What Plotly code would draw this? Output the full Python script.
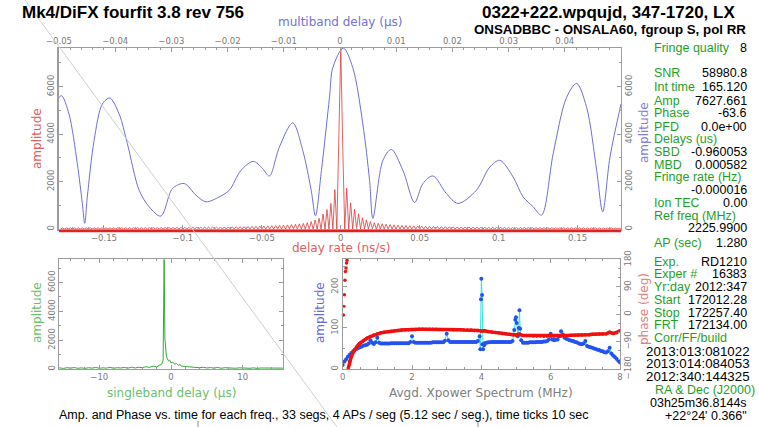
import plotly.graph_objects as go

# ======================= DATA =======================
# Main panel: multiband delay function (blue, top axis, microseconds)
mbd_us = [-0.05, -0.04952, -0.04822, -0.04674, -0.04585, -0.04542, -0.04496, -0.04376, -0.04228, -0.04096,
          -0.03930, -0.03783, -0.03574, -0.03396, -0.03187, -0.02980, -0.02772, -0.02563, -0.02385, -0.02148,
          -0.01970, -0.01761, -0.01542, -0.01376, -0.01257, -0.01079, -0.00841, -0.00663, -0.00513, -0.00437,
          -0.00330, -0.00187, -0.00128, 0.00058, 0.00228, 0.00406, 0.00526, 0.00585, 0.00763, 0.00913,
          0.01119, 0.01328, 0.01476, 0.01654, 0.01893, 0.02100, 0.02428, 0.02665, 0.02843, 0.03080,
          0.03258, 0.03437, 0.03586, 0.03793, 0.04032, 0.04210, 0.04388, 0.04567, 0.04674, 0.04804, 0.05]
mbd_amp = [5548, 5618, 4850, 2755, 1078, 239, 1355, 3732, 5270, 5522,
           4850, 3593, 1635, 935, 545, 1707, 1916, 1426, 1145, 1355,
           1635, 2474, 2851, 2545, 2235, 3451, 4474, 3312, 1635, 558,
           2474, 5548, 6800, 7627, 6800, 4430, 2050, 450, 2890, 3354,
           2474, 1120, 1916, 2235, 1495, 1078, 1635, 2612, 2893, 2193,
           1355, 935, 587, 3174, 5548, 6134, 5128, 2474, 725, 3032, 5270]

# Main panel: delay-rate function (red, bottom axis, ns/s), sampled every half lobe
rate_step_ns_s = 0.00125
rate_core_amp = [3500, 7627, 3400]
rate_lobes_right = [1720, 1100, 830, 640, 470, 385, 315, 270, 240, 220, 200, 186, 174, 163, 154, 146, 139, 132, 126, 121,
                    116, 111, 107, 103, 100, 96, 93, 90, 88, 85, 83, 81, 79, 77, 75, 73, 72, 70, 69, 67,
                    66, 65, 64, 62, 61, 60, 59, 58, 57, 56, 56, 55, 54, 53, 52, 52, 51, 50, 50, 49,
                    48, 48, 47, 47, 46, 46, 45, 45, 44, 44]
rate_lobes_left = [1660, 1080, 820, 630, 450, 380, 310, 265, 237, 215, 198, 184, 172, 162, 153, 145, 138, 131, 125, 120,
                   115, 110, 106, 102, 99, 96, 93, 90, 87, 85, 82, 80, 78, 76, 75, 73, 71, 70, 68, 67,
                   66, 64, 63, 62, 61, 60, 59, 58, 57, 56, 55, 55, 54, 53, 52, 52, 51, 50, 50, 49,
                   48, 48, 47, 47, 46, 46, 45, 45, 44, 44]

# Lower-left: singleband delay function
sbd_us = [-15.6, -15.0, -14.5, -14.0, -13.5, -13.0, -12.5, -12.0, -11.5, -11.0, -10.5, -10.0, -9.5, -9.0,
          -8.5, -8.0, -7.5, -7.0, -6.5, -6.0, -5.5, -5.0, -4.5, -4.0, -3.5, -3.0, -2.5, -2.0,
          -1.6, -1.3, -1.1, -0.96, -0.85, -0.75, -0.65, -0.5, -0.35, -0.2, 0.0, 0.25, 0.5, 0.75, 1.0, 1.25, 1.5,
          2.0, 2.5, 3.0, 3.5, 4.0, 4.5, 5.0, 5.5, 6.0, 6.5, 7.0, 7.5, 8.0, 8.5,
          9.0, 9.5, 10.0, 10.5, 11.0, 11.5, 12.0, 12.5, 13.0, 13.5, 14.0, 14.5, 15.0, 15.6]
sbd_amp = [80, 40, 90, 60, 100, 50, 80, 40, 90, 60, 110, 50, 80, 60,
           120, 50, 90, 70, 110, 60, 130, 70, 120, 90, 160, 110, 200, 150,
           260, 330, 600, 7600, 2100, 1300, 900, 700, 560, 620, 420, 480, 330, 380, 260, 300, 200,
           170, 150, 120, 140, 90, 120, 70, 100, 60, 110, 50, 90, 70, 100,
           50, 80, 60, 90, 50, 80, 40, 70, 60, 80, 40, 70, 50, 60]

# Lower-right: averaged cross-power spectrum amplitude
xp_freq_mhz = [0.0, 0.05, 0.1, 0.15, 0.2, 0.25, 0.3, 0.35, 0.4, 0.45,
               0.5, 0.55, 0.6, 0.65, 0.7, 0.75, 0.8, 0.85, 0.9, 0.95,
               1.0, 1.05, 1.1, 1.15, 1.2, 1.25, 1.3, 1.35, 1.4, 1.45,
               1.5, 1.55, 1.6, 1.65, 1.7, 1.75, 1.8, 1.85, 1.9, 1.95,
               2.0, 2.05, 2.1, 2.15, 2.2, 2.25, 2.3, 2.35, 2.4, 2.45,
               2.5, 2.55, 2.6, 2.65, 2.7, 2.75, 2.8, 2.85, 2.9, 2.95,
               3.0, 3.05, 3.1, 3.15, 3.2, 3.25, 3.3, 3.35, 3.4, 3.45,
               3.5, 3.55, 3.6, 3.65, 3.7, 3.75, 3.8, 3.85, 3.9, 3.95, 3.97, 3.99,
               4.0, 4.02, 4.03, 4.05, 4.08, 4.1, 4.15, 4.2, 4.25, 4.3, 4.35, 4.4, 4.45,
               4.5, 4.55, 4.6, 4.65, 4.7, 4.75, 4.8, 4.85, 4.9, 4.95, 4.98,
               5.0, 5.02, 5.05, 5.08, 5.1, 5.12, 5.15, 5.2, 5.25, 5.3, 5.35, 5.4, 5.45,
               5.5, 5.55, 5.6, 5.65, 5.7, 5.75, 5.8, 5.85, 5.9, 5.95,
               6.0, 6.05, 6.1, 6.15, 6.2, 6.25, 6.3, 6.35, 6.4, 6.45,
               6.5, 6.55, 6.6, 6.65, 6.7, 6.75, 6.8, 6.85, 6.9, 6.95,
               7.0, 7.05, 7.1, 7.15, 7.2, 7.25, 7.3, 7.35, 7.4, 7.45,
               7.5, 7.55, 7.6, 7.65, 7.7, 7.75, 7.8, 7.85, 7.9, 7.95,
               8.0]
xp_amp = [10, 18, 24, 30, 35, 39, 43, 46, 49, 51,
          53, 55, 57, 58, 59, 62, 70, 64, 61, 65,
          76, 64, 62, 62, 62, 62, 62, 62, 63, 63,
          63, 63, 63, 63, 63, 63, 63, 63, 63, 66,
          80, 66, 64, 64, 64, 64, 64, 64, 64, 64,
          64, 64, 65, 65, 65, 65, 65, 65, 65, 69,
          86, 70, 66, 66, 66, 66, 66, 66, 66, 66,
          66, 66, 66, 66, 66, 66, 66, 66, 68, 80, 48, 170,
          220, 180, 60, 48, 58, 63, 64, 65, 65, 66, 66, 66, 66,
          66, 66, 66, 66, 66, 66, 66, 66, 68, 95, 120,
          126, 112, 80, 100, 143, 98, 70, 64, 64, 64, 64, 65, 65,
          65, 65, 66, 66, 66, 66, 67, 67, 68, 72,
          86, 72, 70, 71, 72, 80, 92, 84, 76, 74,
          72, 70, 69, 68, 66, 65, 63, 61, 60, 62,
          68, 56, 54, 53, 52, 50, 49, 47, 46, 44,
          43, 41, 40, 43, 52, 38, 33, 29, 25, 20,
          16]

# Lower-right: phase (wrapped leading points + main curve)
phase_lead_freq_mhz = [0.02, 0.035, 0.05, 0.065, 0.08, 0.095, 0.11, 0.125]
phase_lead_deg = [-2, 26, 64, 112, 141, 152, 169, 178]
phase_freq_mhz = [0.16, 0.2, 0.25, 0.3, 0.35, 0.4, 0.45,
                  0.5, 0.6, 0.7, 0.8, 0.9, 1.0, 1.1, 1.2, 1.3, 1.4, 1.5, 1.6, 1.7, 1.8, 1.9,
                  2.0, 2.1, 2.2, 2.3, 2.4, 2.5, 2.6, 2.7, 2.8, 2.9,
                  3.0, 3.1, 3.2, 3.3, 3.4, 3.5, 3.6, 3.7, 3.8, 3.9,
                  4.0, 4.1, 4.2, 4.3, 4.4, 4.5, 4.6, 4.7, 4.8, 4.9,
                  5.0, 5.1, 5.2, 5.3, 5.4, 5.5, 5.6, 5.7, 5.8, 5.9,
                  6.0, 6.1, 6.2, 6.3, 6.4, 6.5, 6.6, 6.7, 6.8, 6.9,
                  7.0, 7.1, 7.2, 7.3, 7.4, 7.5, 7.6, 7.7, 7.8, 7.9, 8.0]
phase_deg = [-178, -155, -138, -125, -116, -108, -101,
             -95, -86, -79, -73, -68, -64, -61, -59, -57, -56, -54, -53, -52, -51, -51,
             -50, -50, -49, -49, -49, -49, -49, -49, -50, -50,
             -50, -50, -51, -51, -51, -52, -52, -52, -53, -53,
             -55, -54, -57, -58, -60, -61, -63, -64, -66, -67,
             -68, -65, -70, -70, -70, -71, -71, -71, -72, -72,
             -72, -72, -71, -71, -70, -70, -69, -69, -68, -68,
             -67, -67, -66, -66, -65, -65, -64, -59, -63, -60, -54]

# Tick values
mbd_ticks = [-0.05, -0.04, -0.03, -0.02, -0.01, 0, 0.01, 0.02, 0.03, 0.04]
rate_ticks = [-0.15, -0.1, -0.05, 0, 0.05, 0.1, 0.15]
amp_ticks = [0, 2000, 4000, 6000]
sbd_ticks = [-10, 0, 10]
xp_ticks = [0, 2, 4, 6, 8]
xp_amp_ticks = [0, 100, 200]
phase_ticks = [-180, -90, 0, 90, 180]

# Text panel
info_rows = [("Fringe quality", "8"), ("SNR", "58980.8"), ("Int time", "165.120"), ("Amp", "7627.661"),
             ("Phase", "-63.6"), ("PFD", "0.0e+00"), ("Delays (us)", ""), ("SBD", "-0.960053"),
             ("MBD", "0.000582"), ("Fringe rate (Hz)", ""), ("", "-0.000016"), ("Ion TEC", "0.00"),
             ("Ref freq (MHz)", ""), ("", "2225.9900"), ("AP (sec)", "1.280"), ("Exp.", "RD1210"),
             ("Exper #", "16383"), ("Yr:day", "2012:347"), ("Start", "172012.28"), ("Stop", "172257.40"),
             ("FRT", "172134.00"), ("Corr/FF/build", "")]
build_lines = ["2013:013:081022", "2013:014:084053", "2012:340:144325"]
radec_label = "RA &amp; Dec (J2000)"
radec_lines = ["03h25m36.8144s", "+22°24' 0.366\""]

# ======================= BUILD =======================
rate_amp = []
for p in reversed(rate_lobes_left):
    rate_amp += [0, p]
rate_amp += [0] + rate_core_amp + [0]
for p in rate_lobes_right:
    rate_amp += [p, 0]
n_half = (len(rate_amp) - 1) // 2
rate_x = [(i - n_half) * rate_step_ns_s for i in range(len(rate_amp))]

W, H = 759, 427
def px(x): return x / W
def py(y): return 1 - y / H

GRAY = "#9c9c9c"
TICKFONT = dict(family="DejaVu Sans", size=8.5, color="#7a7a7a")

def ax(**kw):
    d = dict(showgrid=False, zeroline=False, showline=True, linecolor=GRAY, linewidth=1,
             ticks="inside", ticklen=4, tickcolor=GRAY, tickwidth=1, tickfont=TICKFONT,
             automargin=False, tickmode="array")
    d.update(kw)
    return d

def minor(dt, t0=0):
    return dict(ticks="inside", ticklen=2, tickcolor=GRAY, dtick=dt, tick0=t0)

fig = go.Figure()

# main panel
fig.add_trace(go.Scatter(x=mbd_us, y=mbd_amp, xaxis="x", yaxis="y", mode="lines",
                         line=dict(color="#6e6ed8", width=1.0, shape="spline", smoothing=0.9),
                         hoverinfo="skip"))
fig.add_trace(go.Scatter(x=rate_x, y=rate_amp, xaxis="x2", yaxis="y2", mode="lines",
                         line=dict(color="#dd3a3a", width=0.8), hoverinfo="skip"))
# lower-left
fig.add_trace(go.Scatter(x=sbd_us, y=sbd_amp, xaxis="x3", yaxis="y3", mode="lines",
                         line=dict(color="#33aa33", width=1), hoverinfo="skip"))
# lower-right
fig.add_trace(go.Scatter(x=xp_freq_mhz, y=xp_amp, xaxis="x4", yaxis="y4", mode="lines+markers",
                         line=dict(color="#38e0e0", width=1),
                         marker=dict(color="#2452f0", size=4), hoverinfo="skip"))
fig.add_trace(go.Scatter(x=phase_freq_mhz, y=phase_deg, xaxis="x4", yaxis="y5", mode="lines+markers",
                         line=dict(color="#f01010", width=3.5),
                         marker=dict(color="#f01010", size=3.5), hoverinfo="skip"))
fig.add_trace(go.Scatter(x=phase_lead_freq_mhz, y=phase_lead_deg, xaxis="x4", yaxis="y5", mode="markers",
                         marker=dict(color="#f01010", size=3.5), hoverinfo="skip", cliponaxis=False))

main_x = [px(59), px(621)]
main_y = [py(229), py(48)]
ll_x = [px(59), px(283)]
lr_x = [px(342.7), px(620)]
low_y = [py(369), py(259)]

fig.update_layout(
    width=W, height=H, margin=dict(l=0, r=0, t=0, b=0),
    paper_bgcolor="white", plot_bgcolor="rgba(0,0,0,0)", showlegend=False,
    xaxis=ax(domain=main_x, anchor="y", side="top", range=[-0.05, 0.05], tickvals=mbd_ticks,
             minor=minor(0.002)),
    xaxis2=ax(overlaying="x", anchor="y", side="bottom", range=[-0.1785, 0.1775], tickvals=rate_ticks,
              linewidth=1.6, minor=minor(0.01)),
    yaxis=ax(domain=main_y, anchor="x", side="left", range=[0, 7630], tickvals=amp_ticks,
             tickangle=-90, linewidth=1.6, minor=minor(1000)),
    yaxis2=ax(overlaying="y", anchor="x", side="right", range=[0, 7630], tickvals=amp_ticks,
              tickangle=-90, minor=minor(1000)),
    xaxis3=ax(domain=ll_x, anchor="y3", range=[-15.62, 15.62], tickvals=sbd_ticks, mirror="ticks",
              linewidth=1.4, minor=minor(2)),
    yaxis3=ax(domain=low_y, anchor="x3", range=[0, 7630], tickvals=amp_ticks, tickangle=-90,
              mirror="ticks", minor=minor(1000)),
    xaxis4=ax(domain=lr_x, anchor="y4", range=[0, 8], tickvals=xp_ticks, mirror="ticks",
              minor=minor(0.5)),
    yaxis4=ax(domain=low_y, anchor="x4", side="left", range=[0, 268], tickvals=xp_amp_ticks,
              tickangle=-90, minor=minor(50)),
    yaxis5=ax(overlaying="y4", anchor="x4", side="right", range=[-180, 182], tickvals=phase_ticks,
              tickangle=-90, minor=minor(30, -180)),
)

# shapes: red base line under main panel, faint diagonal, stray marks
fig.add_shape(type="line", xref="paper", yref="paper", x0=px(59), x1=px(621), y0=py(231.2), y1=py(231.2),
              line=dict(color="#e02222", width=2.2))
fig.add_shape(type="line", xref="paper", yref="paper", x0=px(25), y0=py(0), x1=px(337), y1=py(427),
              line=dict(color="#cfcfcf", width=1), layer="above")
for mx in (198, 478):
    fig.add_shape(type="line", xref="paper", yref="paper", x0=px(mx), x1=px(mx), y0=py(421), y1=py(427),
                  line=dict(color="#888888", width=1))

def txt(x, y, s, size, color, anchor="left", family="Liberation Sans", angle=0):
    fig.add_annotation(x=px(x), y=py(y), xref="paper", yref="paper", text=s, showarrow=False,
                       xanchor=anchor, yanchor="middle", textangle=angle,
                       font=dict(family=family, size=size, color=color), borderpad=0)

# titles
txt(21, 12, "<b>Mk4/DiFX fourfit 3.8 rev 756</b>", 17, "black")
txt(736, 12.5, "<b>0322+222.wpqujd, 347-1720, LX</b>", 17, "black", anchor="right")
txt(747, 29.5, "<b>ONSADBBC - ONSALA60, fgroup S, pol RR</b>", 13.3, "black", anchor="right")

# axis titles
AF = "DejaVu Sans"
txt(340, 22, "multiband delay (µs)", 12, "#7272d4", anchor="center", family=AF)
txt(341, 247.5, "delay rate (ns/s)", 12, "#e06060", anchor="center", family=AF)
txt(37, 139, "amplitude", 12, "#e06060", anchor="center", family=AF, angle=-90)
txt(644, 133, "amplitude", 12, "#8080dd", anchor="center", family=AF, angle=-90)
txt(37, 313, "amplitude", 12, "#6cc06c", anchor="center", family=AF, angle=-90)
txt(171, 393, "singleband delay (µs)", 12, "#6cc06c", anchor="center", family=AF)
txt(320, 313, "amplitude", 12, "#6a6ae0", anchor="center", family=AF, angle=-90)
txt(481, 393, "Avgd. Xpower Spectrum (MHz)", 12, "#808080", anchor="center", family=AF)
txt(644, 309, "phase (deg)", 12, "#e08080", anchor="center", family=AF, angle=-90)

# caption
txt(58, 415, "Amp. and Phase vs. time for each freq., 33 segs, 4 APs / seg (5.12 sec / seg.), time ticks 10 sec",
    12.5, "black")

# info panel
GREEN = "#1f9f1f"
row_y = [48.3, 73.3, 87.0, 100.5, 113.5, 126.5, 139.0, 152.0, 164.7, 177.3, 190.5, 203.3, 215.7, 228.3,
         242.7, 261.7, 274.0, 286.7, 300.0, 312.7, 325.3, 338.3]
for (lab, val), yy in zip(info_rows, row_y):
    if lab:
        txt(653, yy, lab, 12.5, GREEN)
    if val:
        txt(748, yy, val, 12.5, "black", anchor="right")
for s, yy in zip(build_lines, [351.0, 363.5, 376.0]):
    txt(645, yy, s, 13.3, "black")
txt(654, 390, radec_label, 12.5, GREEN)
for s, yy in zip(radec_lines, [402.7, 416.0]):
    txt(748, yy, s, 12.5, "black", anchor="right")

fig.write_html("out.html", config={"displayModeBar": False},
               post_script="document.body.style.margin='0px';document.body.style.overflow='hidden';")
